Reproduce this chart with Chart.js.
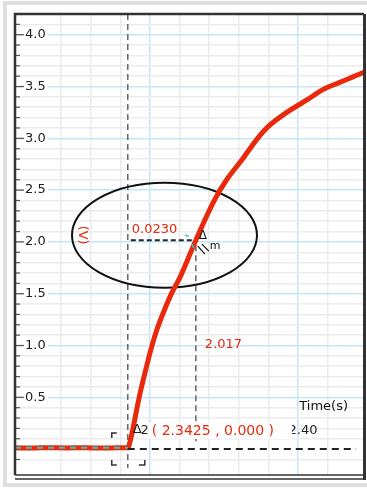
<!DOCTYPE html>
<html>
<head>
<meta charset="utf-8">
<script src="https://cdn.jsdelivr.net/npm/chart.js@4"></script>
<style>
  html, body { margin: 0; padding: 0; background: #fff; }
  canvas { display: block; }
</style>
</head>
<body>
<canvas id="voltage-chart" width="367" height="491"></canvas>
<script>
const chartDiv = document.getElementById('voltage-chart')

const timeS = [2.3044, 2.3100, 2.3160, 2.3220, 2.3280, 2.3340, 2.3390, 2.3425,
    2.3435, 2.3442, 2.3455, 2.3469, 2.3486, 2.3503, 2.3523, 2.3547, 2.3574,
    2.3601, 2.3655, 2.3719, 2.3759, 2.3810, 2.3861, 2.3898, 2.3962, 2.4030,
    2.4084, 2.4141, 2.4216, 2.4223]
const volts = [0.012, 0.010, 0.014, 0.011, 0.013, 0.010, 0.012, 0.012,
    0.10, 0.19, 0.38, 0.57, 0.77, 0.96, 1.15, 1.33, 1.51,
    1.655, 2.017, 2.41, 2.60, 2.79, 2.99, 3.11, 3.25, 3.37,
    3.47, 3.54, 3.63, 3.64]

// axis ranges and tick labels
const timeRange = [2.3044, 2.4223]
const voltRange = [-0.25, 4.2]
const voltTickLabels = ['0.5', '1.0', '1.5', '2.0', '2.5', '3.0', '3.5', '4.0']
const timeTickLabels = ['2.35', '2.40']

// cursor readout: point A and point B
const cursorTime = [2.3425, 2.3655]
const cursorVolt = [0.000, 2.017]

// hand drawn ellipse (centre, radius) in data units
const ellipseCenter = [2.3549, 2.065]
const ellipseRadius = [0.03125, 0.507]

const RED = '#e8290b'
const FONT = '13px "DejaVu Sans"'

const isStep = (v, step) => Math.abs(v / step - Math.round(v / step)) < 1e-6

// keep the axes from eating into the plot box
const fitTo = size => s => {
    if (s.isHorizontal()) s.height = size; else s.width = size
    s.paddingTop = s.paddingBottom = s.paddingLeft = s.paddingRight = 0
}

const annotate = {
    id: 'annotate',
    beforeDatasetsDraw(chart) {
        const { ctx, chartArea: a, scales: { x, y } } = chart
        const x0 = x.getPixelForValue(cursorTime[0]), x1 = x.getPixelForValue(cursorTime[1])
        const y0 = y.getPixelForValue(cursorVolt[0]), y1 = y.getPixelForValue(cursorVolt[1])
        ctx.save()
        ctx.beginPath(); ctx.rect(a.left, a.top, a.width, a.height); ctx.clip()

        // small tick marks on the left edge
        ctx.strokeStyle = '#555'; ctx.lineWidth = 1.2
        y.ticks.forEach(t => {
            if (!isStep(t.value, 0.1)) return
            const py = y.getPixelForValue(t.value)
            const len = isStep(t.value, 0.5) ? 9 : 5
            ctx.beginPath(); ctx.moveTo(a.left, py); ctx.lineTo(a.left + len, py); ctx.stroke()
        })

        // cursor lines
        ctx.strokeStyle = '#666'; ctx.lineWidth = 1.5; ctx.setLineDash([6, 4])
        ctx.beginPath(); ctx.moveTo(x0, a.top); ctx.lineTo(x0, a.bottom - 7); ctx.stroke()
        ctx.beginPath(); ctx.moveTo(x1, y1 + 5); ctx.lineTo(x1, y0 - 4); ctx.stroke()

        // ellipse
        const cx = x.getPixelForValue(ellipseCenter[0]), cy = y.getPixelForValue(ellipseCenter[1])
        const rx = x.getPixelForValue(ellipseCenter[0] + ellipseRadius[0]) - cx
        const ry = cy - y.getPixelForValue(ellipseCenter[1] + ellipseRadius[1])
        ctx.setLineDash([]); ctx.strokeStyle = '#111'; ctx.lineWidth = 2
        ctx.beginPath(); ctx.ellipse(cx, cy, rx, ry, 0, 0, Math.PI * 2); ctx.stroke()
        ctx.restore()
    },
    afterDatasetsDraw(chart) {
        const { ctx, chartArea: a, scales: { x, y } } = chart
        const x0 = x.getPixelForValue(cursorTime[0]), x1 = x.getPixelForValue(cursorTime[1])
        const y0 = y.getPixelForValue(cursorVolt[0]), y1 = y.getPixelForValue(cursorVolt[1])
        ctx.save()
        ctx.beginPath(); ctx.rect(a.left, a.top, a.width, a.height); ctx.clip()

        // cyan dashes on the flat part
        ctx.strokeStyle = '#35c4c4'; ctx.lineWidth = 2; ctx.setLineDash([6, 5])
        const yb = y.getPixelForValue(volts[0])
        ctx.beginPath(); ctx.moveTo(a.left, yb); ctx.lineTo(x0, yb); ctx.stroke()

        // horizontal cursor lines
        ctx.strokeStyle = '#222'; ctx.lineWidth = 2; ctx.setLineDash([7, 5])
        ctx.beginPath(); ctx.moveTo(x0, y0); ctx.lineTo(a.right - 8, y0); ctx.stroke()
        ctx.setLineDash([5, 3])
        ctx.beginPath(); ctx.moveTo(x0 + 3, y1); ctx.lineTo(x1 - 4, y1); ctx.stroke()

        // bracket corners round point A
        ctx.setLineDash([]); ctx.strokeStyle = '#333'; ctx.lineWidth = 1.5
        const L = x0 - 16, R = x0 + 17, T = y0 - 16, B = y0 + 16
        ctx.beginPath()
        ctx.moveTo(L, T + 5); ctx.lineTo(L, T); ctx.lineTo(L + 5, T)
        ctx.moveTo(L, B - 5); ctx.lineTo(L, B); ctx.lineTo(L + 5, B)
        ctx.moveTo(R - 6, B); ctx.lineTo(R, B); ctx.lineTo(R, B - 5)
        ctx.stroke()

        ctx.font = FONT; ctx.textBaseline = 'middle'
        // time tick labels
        const rowY = a.bottom - 44
        ctx.fillStyle = '#222'; ctx.textAlign = 'center'
        timeTickLabels.forEach(l => ctx.fillText(l, x.getPixelForValue(parseFloat(l)) + 5, rowY))

        // readout of point A (it sits over the time labels)
        const readout = '( ' + cursorTime[0].toFixed(4) + ' , ' + cursorVolt[0].toFixed(3) + ' )'
        ctx.font = '14px "DejaVu Sans"'
        const w = ctx.measureText(readout).width
        ctx.fillStyle = '#fff'
        ctx.fillRect(x0 + 20, rowY - 8, w + 22, 16)
        ctx.fillStyle = RED; ctx.textAlign = 'left'
        ctx.fillText(readout, x0 + 24, rowY)
        ctx.fillStyle = '#222'; ctx.font = FONT
        ctx.fillText('\u0394', x0 + 5, rowY - 1)

        // deltas
        ctx.fillStyle = RED; ctx.font = FONT
        ctx.fillText((cursorTime[1] - cursorTime[0]).toFixed(4), x0 + 4, y1 - 11)
        ctx.fillText((cursorVolt[1] - cursorVolt[0]).toFixed(3), x1 + 9, (y0 + y1) / 2)

        // unit label inside the ellipse
        const cx = x.getPixelForValue(ellipseCenter[0]), cy = y.getPixelForValue(ellipseCenter[1])
        const rx = x.getPixelForValue(ellipseCenter[0] + ellipseRadius[0]) - cx
        ctx.save()
        ctx.translate(cx - rx + 10, cy)
        ctx.rotate(Math.PI / 2)
        ctx.textAlign = 'center'
        ctx.fillText('(V)', 0, 0)
        ctx.restore()

        // cursor icon at point B
        ctx.fillStyle = '#111'; ctx.font = '12px "DejaVu Sans"'
        ctx.fillText('\u0394', x1 + 3, y1 - 4)
        ctx.font = '11px "DejaVu Sans"'
        ctx.fillText('m', x1 + 14, y1 + 6)
        ctx.strokeStyle = '#111'; ctx.lineWidth = 1.2
        ctx.beginPath()
        ctx.moveTo(x1 + 2, y1 + 6); ctx.lineTo(x1 + 9, y1 + 14)
        ctx.moveTo(x1 + 6, y1 + 4); ctx.lineTo(x1 + 13, y1 + 11)
        ctx.stroke()
        ctx.strokeStyle = '#35c4c4'; ctx.lineWidth = 1.5
        ctx.beginPath()
        ctx.moveTo(x1 - 4, y1 + 4); ctx.lineTo(x1 - 2, y1 + 8)
        ctx.moveTo(x1 - 11, y1 - 5); ctx.lineTo(x1 - 7, y1 - 4)
        ctx.stroke()

        // axis name
        ctx.fillStyle = '#111'; ctx.font = FONT; ctx.textAlign = 'right'
        ctx.fillText('Time(s)', a.right - 16, a.bottom - 68)
        ctx.restore()
    },
    afterDraw(chart) {
        const { ctx, chartArea: a } = chart
        ctx.save()
        ctx.strokeStyle = '#dedede'; ctx.lineWidth = 4
        ctx.strokeRect(5, 3, 380, 482)
        ctx.strokeStyle = '#333'; ctx.lineWidth = 2.5
        ctx.beginPath()
        ctx.moveTo(a.left, a.bottom); ctx.lineTo(a.left, a.top); ctx.lineTo(a.right, a.top)
        ctx.stroke()
        ctx.lineWidth = 3
        ctx.beginPath(); ctx.moveTo(a.right + 0.5, a.top); ctx.lineTo(a.right + 0.5, a.bottom + 5); ctx.stroke()
        ctx.lineWidth = 1.5
        ctx.beginPath()
        ctx.moveTo(a.left, a.bottom); ctx.lineTo(a.right, a.bottom)
        ctx.moveTo(a.left, a.bottom + 4); ctx.lineTo(a.right, a.bottom + 4)
        ctx.stroke()
        ctx.restore()
    }
}

new Chart(chartDiv, {
    type: 'line',
    data: {
        datasets: [{
            label: 'Voltage',
            data: timeS.map((t, i) => ({ x: t, y: volts[i] })),
            borderColor: RED,
            borderWidth: 5,
            pointRadius: 0,
            cubicInterpolationMode: 'monotone',
            fill: false
        }]
    },
    options: {
        responsive: false,
        animation: false,
        devicePixelRatio: 1,
        layout: { autoPadding: false, padding: { left: 5, top: 14, right: 3, bottom: 16 } },
        plugins: {
            legend: { display: false },
            tooltip: { enabled: false }
        },
        scales: {
            x: {
                type: 'linear',
                min: timeRange[0],
                max: timeRange[1],
                afterFit: fitTo(0),
                border: { display: false },
                ticks: { display: false, stepSize: 0.01 },
                grid: {
                    drawTicks: false,
                    lineWidth: 1.5,
                    color: c => !isStep(c.tick.value, 0.01) ? 'rgba(0,0,0,0)'
                        : isStep(c.tick.value, 0.05) ? '#c6e6f6' : '#ececec'
                }
            },
            y: {
                min: voltRange[0],
                max: voltRange[1],
                afterFit: fitTo(0),
                border: { display: false },
                ticks: { display: false, stepSize: 0.1 },
                grid: {
                    drawTicks: false,
                    lineWidth: 1.5,
                    color: c => isStep(c.tick.value, 0.1) && !isStep(c.tick.value, 0.5) ? '#ececec' : 'rgba(0,0,0,0)'
                }
            },
            y2: {
                position: 'left',
                min: voltRange[0],
                max: voltRange[1],
                afterFit: fitTo(10),
                border: { display: false },
                grid: { drawTicks: false, lineWidth: 1.5, color: '#c6e6f6' },
                ticks: {
                    stepSize: 0.5,
                    mirror: true,
                    padding: 10,
                    color: '#222',
                    font: { family: 'DejaVu Sans', size: 13 },
                    showLabelBackdrop: true,
                    backdropColor: '#fff',
                    backdropPadding: { x: 2, y: 1 },
                    callback: v => {
                        const l = v.toFixed(1)
                        return voltTickLabels.includes(l) && isStep(v, 0.5) ? l : null
                    }
                }
            }
        }
    },
    plugins: [annotate]
})
</script>
</body>
</html>
